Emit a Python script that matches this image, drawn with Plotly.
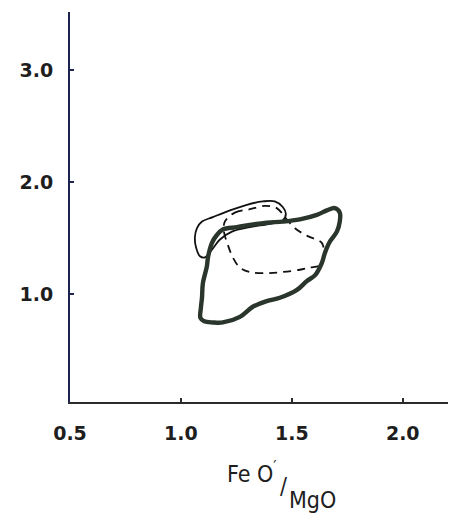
import plotly.graph_objects as go

# FeO'/MgO vs y, three outlined fields
thick_x = [1.090, 1.095, 1.099, 1.117, 1.122, 1.140, 1.162, 1.189, 1.252, 1.311, 1.387,
           1.459, 1.536, 1.613, 1.658, 1.694, 1.716, 1.716, 1.703, 1.671, 1.649, 1.635,
           1.604, 1.568, 1.523, 1.446, 1.387, 1.324, 1.266, 1.189, 1.144, 1.105, 1.088]
thick_y = [0.88, 0.97, 1.10, 1.25, 1.33, 1.46, 1.53, 1.58, 1.60, 1.62, 1.64,
           1.65, 1.67, 1.71, 1.75, 1.77, 1.73, 1.65, 1.56, 1.47, 1.37, 1.28,
           1.17, 1.12, 1.04, 0.97, 0.94, 0.89, 0.80, 0.75, 0.75, 0.76, 0.79]

thin_x = [1.063, 1.072, 1.095, 1.144, 1.221, 1.297, 1.369, 1.423, 1.459, 1.473,
          1.459, 1.401, 1.311, 1.230, 1.176, 1.140, 1.108, 1.086, 1.068]
thin_y = [1.51, 1.59, 1.65, 1.69, 1.75, 1.80, 1.83, 1.83, 1.78, 1.72,
          1.66, 1.63, 1.60, 1.56, 1.49, 1.40, 1.33, 1.34, 1.42]

dash_x = [1.198, 1.243, 1.311, 1.378, 1.432, 1.477, 1.514, 1.572, 1.635, 1.644,
          1.626, 1.581, 1.536, 1.459, 1.387, 1.311, 1.266, 1.234, 1.212, 1.194]
dash_y = [1.65, 1.73, 1.76, 1.79, 1.77, 1.67, 1.59, 1.52, 1.46, 1.35,
          1.26, 1.24, 1.22, 1.20, 1.19, 1.20, 1.24, 1.33, 1.44, 1.56]

x_ticks = [0.5, 1.0, 1.5, 2.0]
x_labels = ['0.5', '1.0', '1.5', '2.0']
y_ticks = [1.0, 2.0, 3.0]
y_labels = ['1.0', '2.0', '3.0']


def closed(xs, ys):
    return list(xs) + [xs[0]], list(ys) + [ys[0]]


fig = go.Figure()
for xs, ys, width, dash, color in [
        (thin_x, thin_y, 1.8, 'solid', '#111111'),
        (dash_x, dash_y, 1.8, '8px,6px', '#111111'),
        (thick_x, thick_y, 4.4, 'solid', '#2a352c')]:
    cx, cy = closed(xs, ys)
    fig.add_trace(go.Scatter(x=cx, y=cy, mode='lines', showlegend=False,
                             line=dict(color=color, width=width, dash=dash,
                                       shape='spline', smoothing=1.0)))

tick_font = dict(family='DejaVu Sans, sans-serif', size=19,
                 color='#1e1e1e', weight='bold')
title_font = dict(family='DejaVu Sans Condensed, Liberation Sans Narrow, sans-serif',
                  size=23, color='#1e1e1e')

# axis title drawn in three pieces: "Fe O'" , slash, "MgO" lower right
for text, px, py, anchor in [("Fe O<sup>′</sup>", 0.539, -0.179, 'right'),
                             ("/", 0.552, -0.215, 'center'),
                             ("MgO", 0.565, -0.250, 'left')]:
    fig.add_annotation(text=text, x=px, y=py, xref='paper', yref='paper',
                       showarrow=False, xanchor=anchor, yanchor='middle',
                       font=title_font, borderpad=0)

# page body has an 8px margin, so the figure is 8px smaller than the window
fig.update_layout(
    width=448, height=506,
    margin=dict(l=62, r=0, t=4, b=112),
    plot_bgcolor='white', paper_bgcolor='white',
    xaxis=dict(range=[0.5, 2.24], tickvals=x_ticks, ticktext=x_labels,
               showgrid=False, zeroline=False, showline=True,
               linecolor='#2b2b2b', linewidth=2, ticks='inside', ticklen=4,
               tickwidth=2, tickcolor='#2b2b2b', tickfont=tick_font,
               ticklabelstandoff=13),
    yaxis=dict(range=[0.04, 3.52], tickvals=y_ticks, ticktext=y_labels,
               showgrid=False, zeroline=False, showline=True,
               linecolor='#1c2350', linewidth=2, ticks='inside', ticklen=4,
               tickwidth=2, tickcolor='#1c2350', tickfont=tick_font,
               ticklabelstandoff=11),
)

fig.write_html("out.html")
